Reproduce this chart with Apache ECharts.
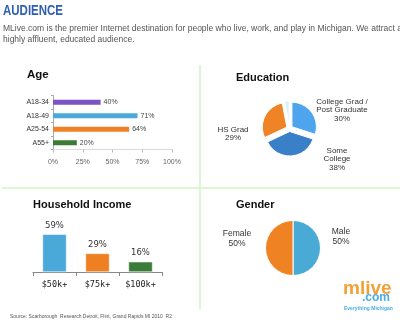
<!DOCTYPE html>
<html><head><meta charset="utf-8">
<script src="https://cdn.jsdelivr.net/npm/echarts@6/dist/echarts.min.js"></script>
<style>html,body{margin:0;padding:0;background:#fff}#c{width:400px;height:323px}</style>
</head><body><div id="c"></div>
<script>
// ---- data ----
const ageCategories = ['A18-34', 'A18-49', 'A25-54', 'A55+'];
const ageValues = [40, 71, 64, 20];
const ageTicks = ['0%', '25%', '50%', '75%', '100%'];
const eduCategories = ['College Grad /\nPost Graduate', 'Some\nCollege', 'HS Grad', 'Other'];
const eduValues = [30, 38, 29, 3];
const incomeCategories = ['$50k+', '$75k+', '$100k+'];
const incomeValues = [59, 29, 16];
const genderCategories = ['Male', 'Female'];
const genderValues = [50, 50];
const titleText = 'AUDIENCE';
const descLines = ['MLive.com is the premier Internet destination for people who live, work, and play in Michigan. We attract a',
  'highly affluent, educated audience.'];
const sourceText = 'Source: Scarborough  Research Detroit, Flint, Grand Rapids MI 2010  R2';

// ---- styles ----
const ageColors = ['#7d52c4', '#4aa8da', '#f08124', '#3a7b36'];
const eduColors = ['#4ea5ee', '#3a80c9', '#ef8325', '#d8f2fb'];
const incomeColors = ['#4aa9d9', '#ef8022', '#3b7c3a'];
const genderColors = ['#4aaad6', '#ef8324'];
const eduLabelPos = [[342, 110], [337, 159], [233, 134], null];
const genderLabelPos = [[341, 237], [237, 239]];
const green = '#daf7cf';

function fit(text, font, target) {
  const c = document.createElement('canvas').getContext('2d');
  c.font = font;
  return target / c.measureText(text).width;
}
const descFont = '9.5px "Liberation Sans", Arial, sans-serif';
const descScale = fit(descLines[0], descFont, 399);
const titleFont = 'bold 14px "Liberation Sans", Arial, sans-serif';
const titleScale = fit(titleText, titleFont, 60);
const srcFont = '5.5px "Liberation Sans", Arial, sans-serif';
const srcScale = fit(sourceText, srcFont, 162);

const chart = echarts.init(document.getElementById('c'), null, {renderer: 'canvas'});

const graphics = [
  {type: 'text', x: 3, y: 4, scaleX: titleScale, style: {text: titleText, font: titleFont, fill: '#2f5fb0'}},
  {type: 'text', x: 3, y: 23, scaleX: descScale, style: {text: descLines[0], font: descFont, fill: '#555'}},
  {type: 'text', x: 3, y: 34, scaleX: descScale, style: {text: descLines[1], font: descFont, fill: '#555'}},
  {type: 'line', shape: {x1: 200, y1: 65, x2: 200, y2: 309}, style: {stroke: green, lineWidth: 2}},
  {type: 'line', shape: {x1: 2, y1: 188, x2: 400, y2: 188}, style: {stroke: green, lineWidth: 2}},
  {type: 'text', x: 27, y: 69, style: {text: 'Age', font: 'bold 11.5px "Liberation Sans", Arial, sans-serif', fill: '#111'}},
  {type: 'text', x: 236, y: 72, style: {text: 'Education', font: 'bold 11px "Liberation Sans", Arial, sans-serif', fill: '#111'}},
  {type: 'text', x: 33, y: 199, style: {text: 'Household Income', font: 'bold 11px "Liberation Sans", Arial, sans-serif', fill: '#111'}},
  {type: 'text', x: 236, y: 199, style: {text: 'Gender', font: 'bold 11px "Liberation Sans", Arial, sans-serif', fill: '#111'}},
  {type: 'text', x: 10, y: 313, scaleX: srcScale, style: {text: sourceText, font: srcFont, fill: '#555'}},
  {type: 'text', x: 343, y: 279, style: {text: 'mlive', font: 'bold 19px "Liberation Sans", Arial, sans-serif', fill: '#f3a135'}},
  {type: 'text', x: 362, y: 292, style: {text: '.com', font: 'bold 12px "Liberation Sans", Arial, sans-serif', fill: '#4aaee0'}},
  {type: 'text', x: 344, y: 306.5, style: {text: 'Everything Michigan', font: 'bold 5px "Liberation Sans", Arial, sans-serif', fill: '#4aaee0'}}
];
eduCategories.forEach((c, i) => {
  if (!eduLabelPos[i]) return;
  graphics.push({type: 'text', x: eduLabelPos[i][0], y: eduLabelPos[i][1],
    style: {text: c + '\n' + eduValues[i] + '%', font: '8px "Liberation Sans", Arial, sans-serif', fill: '#333',
      align: 'center', verticalAlign: 'middle', lineHeight: 8.3}});
});
genderCategories.forEach((c, i) => {
  graphics.push({type: 'text', x: genderLabelPos[i][0], y: genderLabelPos[i][1],
    style: {text: c + '\n' + genderValues[i] + '%', font: '8.5px "Liberation Sans", Arial, sans-serif', fill: '#333',
      align: 'center', verticalAlign: 'middle', lineHeight: 10}});
});

chart.setOption({
  animation: false,
  backgroundColor: '#fff',
  grid: [
    {left: 53, top: 95.5, width: 119, height: 54},
    {left: 33, top: 208, width: 129, height: 64}
  ],
  xAxis: [
    {gridIndex: 0, type: 'value', min: 0, max: 100, interval: 25,
      axisLine: {show: true, lineStyle: {color: '#ddd'}},
      axisTick: {show: true, length: 3, lineStyle: {color: '#bbb'}},
      splitLine: {show: false},
      axisLabel: {fontSize: 7, color: '#666', margin: 9, fontFamily: 'Liberation Sans',
        formatter: v => ageTicks[Math.round(v / 25)]}},
    {gridIndex: 1, type: 'category', data: incomeCategories,
      axisLine: {show: true, lineStyle: {color: '#888'}},
      axisTick: {show: true, length: 4, lineStyle: {color: '#888'}},
      axisLabel: {fontSize: 8.5, color: '#222', margin: 8, fontFamily: 'DejaVu Sans Mono'}}
  ],
  yAxis: [
    {gridIndex: 0, type: 'category', data: ageCategories, inverse: true,
      axisLine: {show: true, lineStyle: {color: '#aaa'}},
      axisTick: {show: true, length: 2, lineStyle: {color: '#aaa'}},
      axisLabel: {fontSize: 7, color: '#333', margin: 4, fontFamily: 'Liberation Sans'}},
    {gridIndex: 1, type: 'value', min: 0, max: 100, show: false, splitLine: {show: false}}
  ],
  series: [
    {type: 'bar', xAxisIndex: 0, yAxisIndex: 0, barWidth: 5,
      data: ageValues.map((v, i) => ({value: v, itemStyle: {color: ageColors[i]}})),
      label: {show: true, position: 'right', distance: 3, formatter: '{c}%', fontSize: 7, color: '#444', fontFamily: 'Liberation Sans'}},
    {type: 'bar', xAxisIndex: 1, yAxisIndex: 1, barWidth: 24,
      data: incomeValues.map((v, i) => ({value: v, itemStyle: {color: incomeColors[i], borderColor: '#fff', borderWidth: 0.5}})),
      label: {show: true, position: 'top', distance: 4, formatter: '{c}%', fontSize: 8.5, color: '#333', fontFamily: 'DejaVu Sans'}},
    {type: 'pie', center: [289.5, 128.5], radius: 24.5, startAngle: 90, clockwise: true,
      selectedMode: 'multiple', selectedOffset: 3,
      label: {show: false}, labelLine: {show: false},
      itemStyle: {borderColor: '#fff', borderWidth: 1},
      data: eduValues.map((v, i) => ({value: v, name: eduCategories[i], selected: true, itemStyle: {color: eduColors[i]}}))},
    {type: 'pie', center: [293, 248], radius: 27.5, startAngle: 90, clockwise: true,
      label: {show: false}, labelLine: {show: false},
      itemStyle: {borderColor: '#fff', borderWidth: 1},
      data: genderValues.map((v, i) => ({value: v, name: genderCategories[i], itemStyle: {color: genderColors[i]}}))}
  ],
  graphic: graphics
});
</script>
</body></html>
